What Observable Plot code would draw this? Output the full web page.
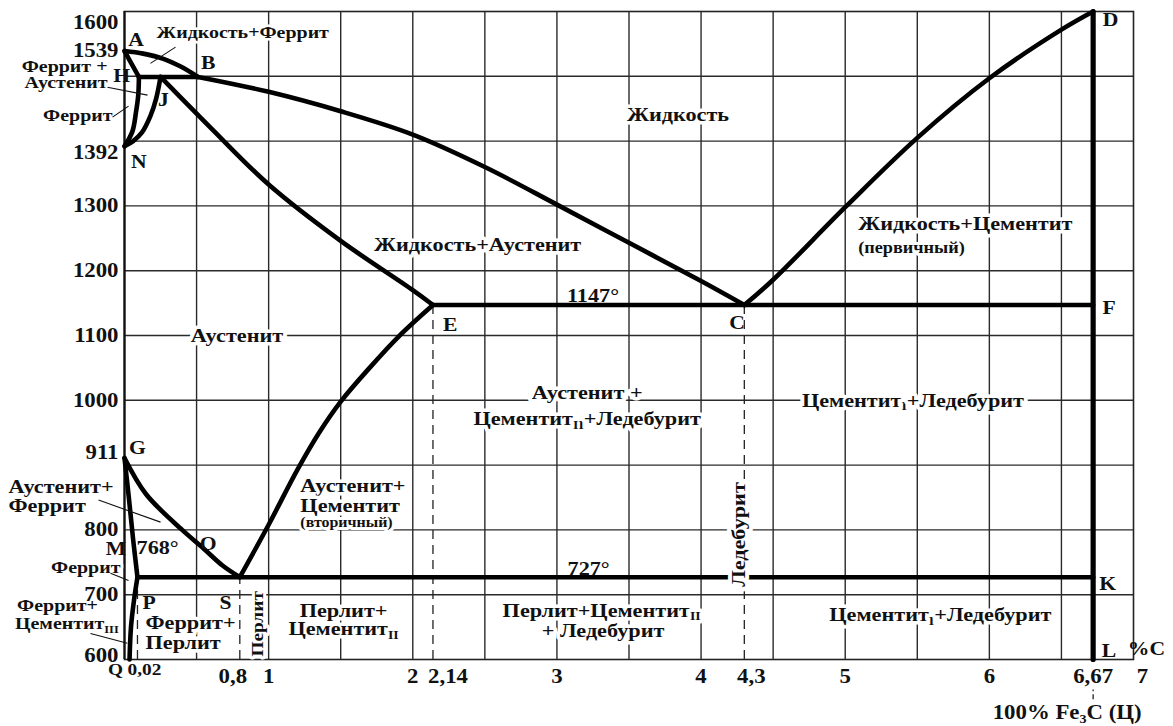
<!DOCTYPE html>
<html><head><meta charset="utf-8">
<script src="https://cdn.jsdelivr.net/npm/d3@7"></script>
<script src="https://cdn.jsdelivr.net/npm/@observablehq/plot@0.6"></script>
<style>
body{margin:0;background:#fff;}
#chart{width:1173px;height:726px;overflow:hidden;}
</style></head><body><div id="chart"></div>
<script>
// ===== DATA (x = % C as drawn on the schematic, y = °C) =====
const curveAB = [[0,1539],[0.13,1535],[0.27,1527],[0.39,1515],[0.51,1499]];
const curveBC = [[0.51,1499],[1,1476],[1.5,1446],[2,1410],[2.5,1360],[3,1302],[3.5,1243],[4,1184],[4.3,1147]];
const curveCD = [[4.3,1147],[4.5,1186],[5,1298],[5.5,1405],[6,1497],[6.5,1572],[6.72,1600]];
const curveAH = [[0,1539],[0.03,1527],[0.065,1513],[0.1,1499]];
const lineHJB = [[0.1,1499],[0.51,1499]];
const curveHN = [[0.1,1499],[0.095,1470],[0.08,1445],[0.055,1415],[0,1392]];
const curveJN = [[0.25,1499],[0.22,1466],[0.18,1439],[0.12,1413],[0.06,1400],[0,1392]];
const curveJE = [[0.25,1499],[0.6,1420],[1.0,1333],[1.5,1246],[2.0,1170],[2.14,1147]];
const curveES = [[2.14,1147],[1.9,1098],[1.7,1050],[1.5,998],[1.35,950],[1.2,893],[1.0,808],[0.8,727]];
const lineECF = [[2.14,1147],[6.72,1147]];
const curveGOS = [[0,911],[0.15,855],[0.4,800],[0.55,771],[0.68,745],[0.8,727]];
const curveGP = [[0,911],[0.03,850],[0.06,785],[0.09,727]];
const curvePQ = [[0.09,727],[0.065,690],[0.045,650],[0.035,600]];
const linePSK = [[0.09,727],[6.72,727]];
const lineDL = [[6.72,600],[6.72,1600]];

const dashedX = [0.09, 0.8, 2.14, 4.3];
const dashedTop = [727, 727, 1147, 1147];

const gridX = [0.5,1,1.5,2,2.5,3,3.5,4,4.5,5,5.5,6,6.5];
const gridY = [700,800,900,1000,1100,1200,1300,1400,1500];

const xTickValues = [0,0.09,0.8,1,2,2.14,3,4,4.3,5,6,6.72,7];
const xTickLabels = ["Q","0,02","0,8","1","2","2,14","3","4","4,3","5","6","6,67","7"];
const yTickValues = [600,700,800,911,1000,1100,1200,1300,1392,1539,1600];
const yTickLabels = ["600","700","800","911","1000","1100","1200","1300","1392","1539","1600"];

// phase-region annotations: [text, x, y, anchor]
const regionLabels = [
  ["Жидкость",3.84,1440,"middle"],
  ["Жидкость+Аустенит",2.45,1240,"middle"],
  ["1147°",3.25,1162,"middle"],
  ["Жидкость+Цементит",5.09,1273,"start"],
  ["Аустенит",0.78,1100,"middle"],
  ["Аустенит +",3.21,1011,"middle"],
  ["Цементит_{II}+Ледебурит",3.21,972,"middle"],
  ["Цементит_{I}+Ледебурит",5.47,1000,"middle"],
  ["Аустенит+",1.22,868,"start"],
  ["Цементит",1.22,838,"start"],
  ["Аустенит+",-0.805,866,"start"],
  ["Феррит",-0.805,838,"start"],
  ["768°",0.23,773,"middle"],
  ["Феррит+",0.146,657,"start"],
  ["Перлит",0.146,626,"start"],
  ["Перлит+",1.52,676,"middle"],
  ["Цементит_{II}",1.52,648,"middle"],
  ["727°",3.22,740,"middle"],
  ["Перлит+Цементит_{II}",3.31,676,"middle"],
  ["+ Ледебурит",3.32,645,"middle"],
  ["Цементит_{I}+Ледебурит",5.66,669,"middle"]
];
// labels in the crowded left corner (slightly smaller type)
const cornerLabels = [
  ["Жидкость+Феррит",0.82,1567,"middle"],
  ["Феррит +",-0.118,1516,"end"],
  ["Аустенит",-0.118,1491,"end"],
  ["Феррит",-0.083,1440,"end"],
  ["Феррит",-0.028,742,"end"],
  ["Феррит+",-0.745,683,"start"],
  ["Цементит_{III}",-0.76,655,"start"]
];
const noteLiquid = ["(первичный)",5.09,1235];
const noteAustenite = ["(вторичный)",1.22,812];
const verticalLabels = [
  ["Ледебурит",4.26,793],
  ["Перлит",0.92,655]
];
const pointLabels = [
  ["A",0.08,1556],["B",0.58,1520],["H",-0.02,1500],["J",0.27,1464],["N",0.1,1368],
  ["G",0.09,926],["O",0.58,779],["M",-0.06,771],["P",0.17,688],["S",0.7,688],
  ["E",2.26,1116],["C",4.25,1119],["F",6.83,1142],["D",6.84,1587],["K",6.82,717],
  ["L",6.83,614],["%C",7.09,617]
];
// leader lines: [x1,y1,x2,y2]
const leaders = [
  [0.354,1545,0.18,1520],
  [-0.118,1483,0.16,1471],
  [-0.083,1437,0.028,1454],
  [-0.18,846,0.25,812],
  [-0.097,733,0.028,722],
  [-0.236,640,0.02,625]
];
const footnote = "100% Fe_{3}C (Ц)";

// ===== BUILD =====
const phaseCurves = {AB:curveAB,BC:curveBC,CD:curveCD,AH:curveAH,HJB:lineHJB,HN:curveHN,JN:curveJN,
  JE:curveJE,ES:curveES,ECF:lineECF,GOS:curveGOS,GP:curveGP,PQ:curvePQ,PSK:linePSK};
const phaseRows = Object.entries(phaseCurves).flatMap(([id,pts]) => pts.map(([x,y]) => ({id,x,y})));
const dlRows = lineDL.map(([x,y]) => ({x,y}));
const dashedRows = dashedX.map((x,i) => ({x, top: dashedTop[i]}));
const toObj = (a) => ({text:a[0], x:a[1], y:a[2], anchor:a[3]});

const INK = "#111";
const FONT = "'Liberation Serif','Times New Roman',serif";
const halo = {stroke:"white", paintOrder:"stroke", strokeLinejoin:"round"};

const xDx = {"Q":-9,"0,02":7,"0,8":-7,"2,14":15,"4,3":7,"6,67":0,"7":9};
const yDy = {"1600":11,"1392":6,"911":-5,"600":-4};

const marks = [
  Plot.ruleX(gridX, {y1:600, y2:1600, stroke:"#2a2a2a", strokeWidth:1.4}),
  Plot.ruleY(gridY, {x1:0, x2:7, stroke:"#2a2a2a", strokeWidth:1.4}),
  Plot.frame({stroke:"#222", strokeWidth:1.6}),
  Plot.ruleX([0], {y1:600, y2:1600, stroke:"#111", strokeWidth:2.2}),
  Plot.ruleX(dashedRows, {x:"x", y1:600, y2:"top", stroke:"#222", strokeWidth:1.3, strokeDasharray:"9,6"}),
  Plot.ruleX([6.72], {y1:538, y2:553, stroke:"#222", strokeWidth:1.3, strokeDasharray:"5,3"})
];
for (const anchor of ["start","middle","end"]) {
  const big = regionLabels.map(toObj).filter(d => d.anchor === anchor);
  if (big.length) marks.push(Plot.text(big, {
    x:"x", y:"y", text:"text", textAnchor:anchor, fontSize:19.5, fontWeight:"bold", fill:INK,
    strokeWidth:7, ...halo
  }));
  const small = cornerLabels.map(toObj).filter(d => d.anchor === anchor);
  if (small.length) marks.push(Plot.text(small, {
    x:"x", y:"y", text:"text", textAnchor:anchor, fontSize:17.5, fontWeight:"bold", fill:INK,
    strokeWidth:5, ...halo
  }));
}
marks.push(
  Plot.text([noteLiquid], {x:d=>d[1], y:d=>d[2], text:d=>d[0], textAnchor:"start", fontSize:16, fontWeight:"bold", fill:INK, strokeWidth:6, ...halo}),
  Plot.text([noteAustenite], {x:d=>d[1], y:d=>d[2], text:d=>d[0], textAnchor:"start", fontSize:14, fontWeight:"bold", fill:INK, strokeWidth:6, ...halo}),
  Plot.line(phaseRows, {x:"x", y:"y", z:"id", curve:"catmull-rom", stroke:"#000", strokeWidth:4.6, strokeLinejoin:"round"}),
  Plot.line(dlRows, {x:"x", y:"y", stroke:"#000", strokeWidth:5.2}),
  Plot.link(leaders, {x1:d=>d[0], y1:d=>d[1], x2:d=>d[2], y2:d=>d[3], stroke:"#111", strokeWidth:1.1}),
  Plot.text(verticalLabels.slice(0,1), {x:d=>d[1], y:d=>d[2], text:d=>d[0], rotate:-90, fontSize:19.5, fontWeight:"bold", fill:INK,
    strokeWidth:8, ...halo}),
  Plot.text(verticalLabels.slice(1), {x:d=>d[1], y:d=>d[2], text:d=>d[0], rotate:-90, fontSize:17, fontWeight:"bold", fill:INK,
    strokeWidth:6, ...halo}),
  Plot.text(pointLabels, {x:d=>d[1], y:d=>d[2], text:d=>d[0], fontSize:19, fontWeight:"bold", fill:INK})
);
yTickValues.forEach((v,i) => {
  const lab = yTickLabels[i];
  marks.push(Plot.text([v], {x:0, y:d=>d, text:()=>lab, textAnchor:"end", dx:-6, dy: yDy[lab] || 0,
    fontSize:20, fontWeight:"bold", fill:INK}));
});
xTickValues.forEach((v,i) => {
  const lab = xTickLabels[i];
  const small = (lab === "Q" || lab === "0,02");
  marks.push(Plot.text([v], {x:d=>d, y:600, text:()=>lab, dy: small ? 10 : 17, dx: xDx[lab] || 0,
    fontSize: small ? 17 : 20, fontWeight:"bold", fill:INK}));
});
marks.push(Plot.text([6.72], {x:d=>d, y:600, text:()=>footnote, dy:53, dx:-26, fontSize:20, fontWeight:"bold", fill:INK}));

const svg = Plot.plot({
  width:1173, height:726,
  marginLeft:124, marginRight:40, marginTop:11, marginBottom:67,
  x:{domain:[0,7], axis:null},
  y:{domain:[600,1600], axis:null},
  style:{fontFamily:FONT, background:"white", overflow:"visible"},
  marks
});

// post-process: subscripts and the slightly wide serif type of the original
const SVGNS = "http://www.w3.org/2000/svg";
d3.select(svg).selectAll("text").each(function() {
  const el = this;
  const s = el.textContent;
  const t = el.getAttribute("transform");
  if (t) el.setAttribute("transform", t + " scale(1.14,1)");
  if (s.includes("_{")) {
    const parts = s.split(/_\{([^}]*)\}/);
    el.textContent = "";
    let afterSub = false;
    parts.forEach((p,i) => {
      if (!p) return;
      const ts = document.createElementNS(SVGNS, "tspan");
      ts.textContent = p;
      if (i % 2 === 1) { ts.setAttribute("font-size","0.62em"); ts.setAttribute("dy","0.32em"); afterSub = true; }
      else if (afterSub) { ts.setAttribute("dy","-0.2em"); afterSub = false; }
      el.appendChild(ts);
    });
  }
});
document.getElementById("chart").appendChild(svg);
</script></body></html>
